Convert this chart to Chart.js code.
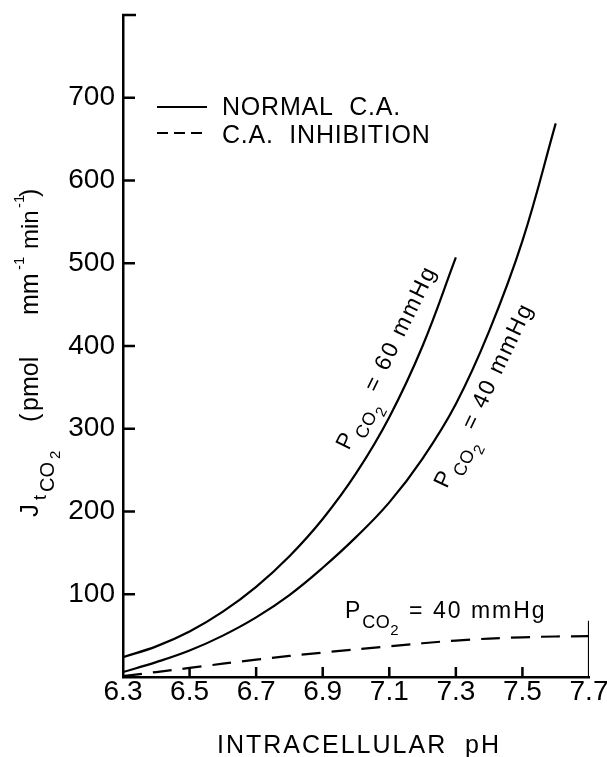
<!DOCTYPE html>
<html>
<head>
<meta charset="utf-8">
<script src="https://cdn.jsdelivr.net/npm/chart.js@4/dist/chart.umd.min.js"></script>
<style>
  html, body { margin: 0; padding: 0; background: #fff; }
  #wrap { width: 607px; height: 757px; }
</style>
</head>
<body>
<div id="wrap"><canvas id="chart" width="607" height="757"></canvas></div>
<script>
const FONT = '"Liberation Sans", Arial, sans-serif';

// JtCO2 vs intracellular pH
const ph60 = [6.3, 6.4, 6.5, 6.6, 6.7, 6.8, 6.9, 7.0, 7.1, 7.2, 7.3];
const normal60 = [24, 37, 55, 79, 109, 146, 191, 246, 314, 400, 507];

const ph40 = [6.3, 6.4, 6.5, 6.6, 6.7, 6.8, 6.9, 7.0, 7.1, 7.2, 7.3, 7.4, 7.5, 7.6];
const normal40 = [6, 18, 32, 50, 72, 99, 132, 169, 211, 264, 330, 418, 527, 669];

const phInhib = [6.3, 6.5, 6.7, 6.9, 7.1, 7.3, 7.5, 7.7];
const inhib40 = [1, 11, 21, 29.5, 37, 44, 48, 49.5];

// short bar closing the range at pH 7.7
const endMarkPh = [7.7, 7.7];
const endMarkY = [0, 68];

const xTicks = [6.3, 6.5, 6.7, 6.9, 7.1, 7.3, 7.5, 7.7];
const yTicks = [100, 200, 300, 400, 500, 600, 700];
const legendLabels = ['NORMAL  C.A.', 'C.A.  INHIBITION'];

const pts = (xs, ys) => xs.map((x, i) => ({ x, y: ys[i] }));

// text made of runs with their own size and baseline shift
function drawParts(ctx, x, y, angle, parts, spacing) {
  ctx.save();
  ctx.translate(x, y);
  ctx.rotate(angle * Math.PI / 180);
  ctx.fillStyle = '#000';
  ctx.textAlign = 'left';
  ctx.textBaseline = 'alphabetic';
  let pos = 0;
  parts.forEach(p => {
    ctx.font = p.size + 'px ' + FONT;
    ctx.letterSpacing = (p.sp !== undefined ? p.sp : (spacing || 0)) + 'px';
    if (p.at !== undefined) pos = p.at;
    ctx.fillText(p.text, pos, p.dy || 0);
    pos += ctx.measureText(p.text).width;
  });
  ctx.restore();
}

const pco2 = (rest) => [
  { text: 'P', size: 23 },
  { text: 'CO', size: 18, dy: 10, sp: 0.5 },
  { text: '2', size: 15, dy: 17 },
  { text: ' = ' + rest, size: 23 }
];

const decor = {
  id: 'decor',
  afterDraw(chart) {
    const { ctx, chartArea: a, scales: { x, y } } = chart;
    ctx.save();
    ctx.strokeStyle = '#000';
    ctx.lineWidth = 2.5;
    ctx.lineCap = 'butt';

    // inward tick marks
    ctx.beginPath();
    yTicks.forEach(v => {
      const py = y.getPixelForValue(v);
      ctx.moveTo(a.left, py);
      ctx.lineTo(a.left + 12, py);
    });
    const top = y.getPixelForValue(800);
    ctx.moveTo(a.left - 1, top);
    ctx.lineTo(a.left + 13, top);
    xTicks.slice(1, -1).forEach(v => {
      const px = x.getPixelForValue(v);
      ctx.moveTo(px, a.bottom);
      ctx.lineTo(px, a.bottom - 10);
    });
    ctx.stroke();

    // legend
    ctx.lineWidth = 2.2;
    const lx = a.left + 34;
    ctx.beginPath();
    ctx.moveTo(lx, 107);
    ctx.lineTo(lx + 50, 107);
    ctx.stroke();
    ctx.setLineDash([11, 6]);
    ctx.beginPath();
    ctx.moveTo(lx, 133);
    ctx.lineTo(lx + 45, 133);
    ctx.stroke();
    ctx.setLineDash([]);
    drawParts(ctx, lx + 65, 115, 0, [{ text: legendLabels[0], size: 25 }], 0.8);
    drawParts(ctx, lx + 65, 143, 0, [{ text: legendLabels[1], size: 25 }], 0.8);

    // curve labels
    drawParts(ctx, x.getPixelForValue(6.978), y.getPixelForValue(273), -64, pco2('60 mmHg'), 2);
    drawParts(ctx, x.getPixelForValue(7.273), y.getPixelForValue(227), -64.5, pco2('40 mmHg'), 2);
    drawParts(ctx, x.getPixelForValue(6.967), y.getPixelForValue(71), 0, pco2('40 mmHg'), 2);

    // axis titles
    drawParts(ctx, 38, 517, -90, [
      { text: 'J', size: 26 },
      { text: 't', size: 18, at: 17, dy: 8 },
      { text: 'CO', size: 20, at: 25, dy: 16 },
      { text: '2', size: 15, at: 58, dy: 22 },
      { text: '(', size: 25, at: 95 },
      { text: 'pmol', size: 25, at: 106 },
      { text: 'mm', size: 25, at: 202 },
      { text: '-1', size: 15, at: 247, dy: -14 },
      { text: 'min', size: 24, at: 268 },
      { text: '-1', size: 15, at: 309, dy: -14 },
      { text: ')', size: 25, at: 320 }
    ]);
    const title = 'INTRACELLULAR  pH';
    ctx.font = '25px ' + FONT;
    ctx.letterSpacing = '2px';
    const tw = ctx.measureText(title).width;
    drawParts(ctx, 359 - tw / 2, 753, 0, [{ text: title, size: 25 }], 2);
    ctx.restore();
  }
};

const line = (data, dash) => ({
  data,
  borderColor: '#000',
  borderWidth: 2.2,
  borderDash: dash || [],
  pointRadius: 0,
  fill: false,
  tension: 0.4
});

new Chart(document.getElementById('chart'), {
  type: 'line',
  data: {
    datasets: [
      line(pts(ph60, normal60)),
      line(pts(ph40, normal40)),
      line(pts(phInhib, inhib40), [19, 11]),
      line(pts(endMarkPh, endMarkY))
    ]
  },
  options: {
    responsive: false,
    animation: false,
    layout: { padding: { top: 15, right: 18, left: 0, bottom: 0 } },
    plugins: { legend: { display: false }, tooltip: { enabled: false } },
    scales: {
      x: {
        type: 'linear',
        min: 6.3,
        max: 7.7,
        afterBuildTicks: s => { s.ticks = xTicks.map(v => ({ value: v })); },
        afterFit: s => { s.height = 80; s.paddingLeft = 0; s.paddingRight = 0; },
        grid: { display: false, drawTicks: false },
        border: { display: true, color: '#000', width: 2.5 },
        ticks: {
          color: '#000',
          font: { family: FONT, size: 28 },
          padding: -2,
          maxRotation: 0,
          autoSkip: false,
          callback: v => v.toFixed(1)
        }
      },
      y: {
        min: 0,
        max: 800,
        afterBuildTicks: s => { s.ticks = yTicks.map(v => ({ value: v })); },
        afterFit: s => { s.width = 123; s.paddingTop = 0; s.paddingBottom = 0; },
        grid: { display: false, drawTicks: false },
        border: { display: true, color: '#000', width: 2.5 },
        ticks: {
          color: '#000',
          font: { family: FONT, size: 28 },
          padding: 8,
          callback: v => String(v)
        }
      }
    }
  },
  plugins: [decor]
});
</script>
</body>
</html>
